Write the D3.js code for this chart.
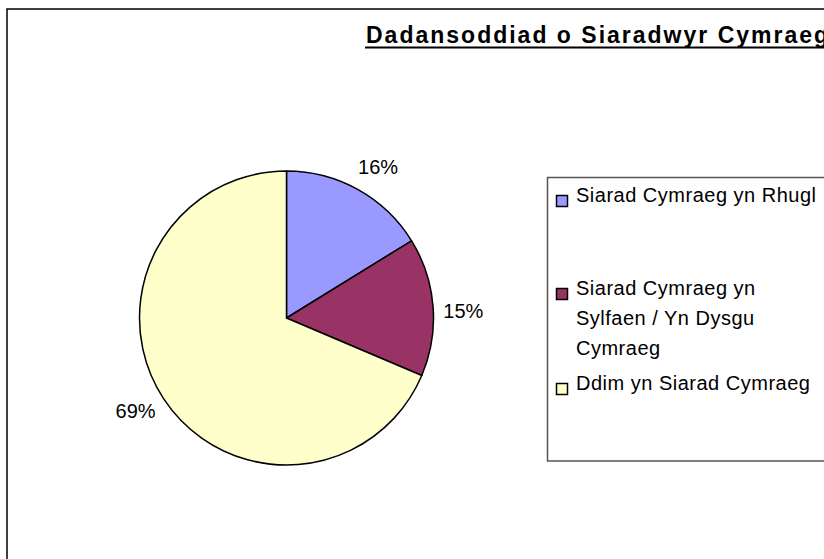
<!DOCTYPE html>
<html>
<head>
<meta charset="utf-8">
<script src="https://cdn.jsdelivr.net/npm/d3@7"></script>
<style>
  html, body { margin: 0; padding: 0; background: #fff; overflow: hidden; }
  svg { display: block; }
</style>
</head>
<body>
<svg id="chart" width="824" height="559"></svg>
<script>
// ---- data ----
const title = "Dadansoddiad o Siaradwyr Cymraeg";
const categories = [
  "Siarad Cymraeg yn Rhugl",
  "Siarad Cymraeg yn Sylfaen / Yn Dysgu Cymraeg",
  "Ddim yn Siarad Cymraeg"
];
const legendLines = [
  ["Siarad Cymraeg yn Rhugl"],
  ["Siarad Cymraeg yn", "Sylfaen / Yn Dysgu", "Cymraeg"],
  ["Ddim yn Siarad Cymraeg"]
];
const values = [16.2, 15.2, 68.6];
const colors = ["#9999FF", "#993366", "#FFFFCC"];

// ---- drawing ----
const svg = d3.select("#chart");
const font = "'Liberation Sans', Arial, sans-serif";

// outer chart frame (extends past the window on right/bottom)
svg.append("rect")
  .attr("x", 7).attr("y", 9)
  .attr("width", 900).attr("height", 700)
  .attr("fill", "#fff")
  .attr("stroke", "#000").attr("stroke-width", 1.5);

// title (clipped at right edge, as in the reference)
svg.append("text")
  .attr("x", 366).attr("y", 43)
  .attr("font-family", font)
  .attr("font-weight", "bold")
  .attr("font-size", 23)
  .attr("letter-spacing", "2px")
  .attr("fill", "#000")
  .text(title);
svg.append("line")
  .attr("x1", 365).attr("x2", 900)
  .attr("y1", 47.5).attr("y2", 47.5)
  .attr("stroke", "#000").attr("stroke-width", 2);

// pie
const cx = 286.5, cy = 318, r = 147;
const total = d3.sum(values);
const pie = d3.pie().sort(null).value(d => d)(values);
const arc = d3.arc().innerRadius(0).outerRadius(r);
const labelR = 177;
const g = svg.append("g").attr("transform", `translate(${cx},${cy})`);
g.selectAll("path.slice")
  .data(pie)
  .join("path")
  .attr("class", "slice")
  .attr("d", arc)
  .attr("fill", (d, i) => colors[i])
  .attr("stroke", "#000")
  .attr("stroke-width", 1.5)
  .attr("stroke-linejoin", "round");

const fmt = d3.format(".0%");
const nudge = 2 * Math.PI / 180;
g.selectAll("text.lbl")
  .data(pie)
  .join("text")
  .attr("class", "lbl")
  .attr("transform", d => {
    const a = (d.startAngle + d.endAngle) / 2 + nudge;
    return `translate(${labelR * Math.sin(a)},${-labelR * Math.cos(a)})`;
  })
  .attr("text-anchor", "middle")
  .attr("dy", "0.36em")
  .attr("font-family", font)
  .attr("font-size", 20)
  .attr("fill", "#000")
  .text(d => fmt(d.data / total));

// legend
svg.append("rect")
  .attr("x", 547.5).attr("y", 177.5)
  .attr("width", 400).attr("height", 283.5)
  .attr("fill", "#fff")
  .attr("stroke", "#555").attr("stroke-width", 1.5);

const baselines = [202, 295, 390];
const lineH = 30;
const lg = svg.append("g");
legendLines.forEach((lines, i) => {
  const b = baselines[i];
  lg.append("rect")
    .attr("x", 556.5).attr("y", b - 6.5)
    .attr("width", 11).attr("height", 11)
    .attr("fill", colors[i])
    .attr("stroke", "#000").attr("stroke-width", 1.5);
  const tx = lg.append("text")
    .attr("font-family", font)
    .attr("font-size", 20)
    .attr("letter-spacing", "0.5px")
    .attr("fill", "#000");
  lines.forEach((ln, j) => {
    tx.append("tspan").attr("x", 576).attr("y", b + j * lineH).text(ln);
  });
});
</script>
</body>
</html>
